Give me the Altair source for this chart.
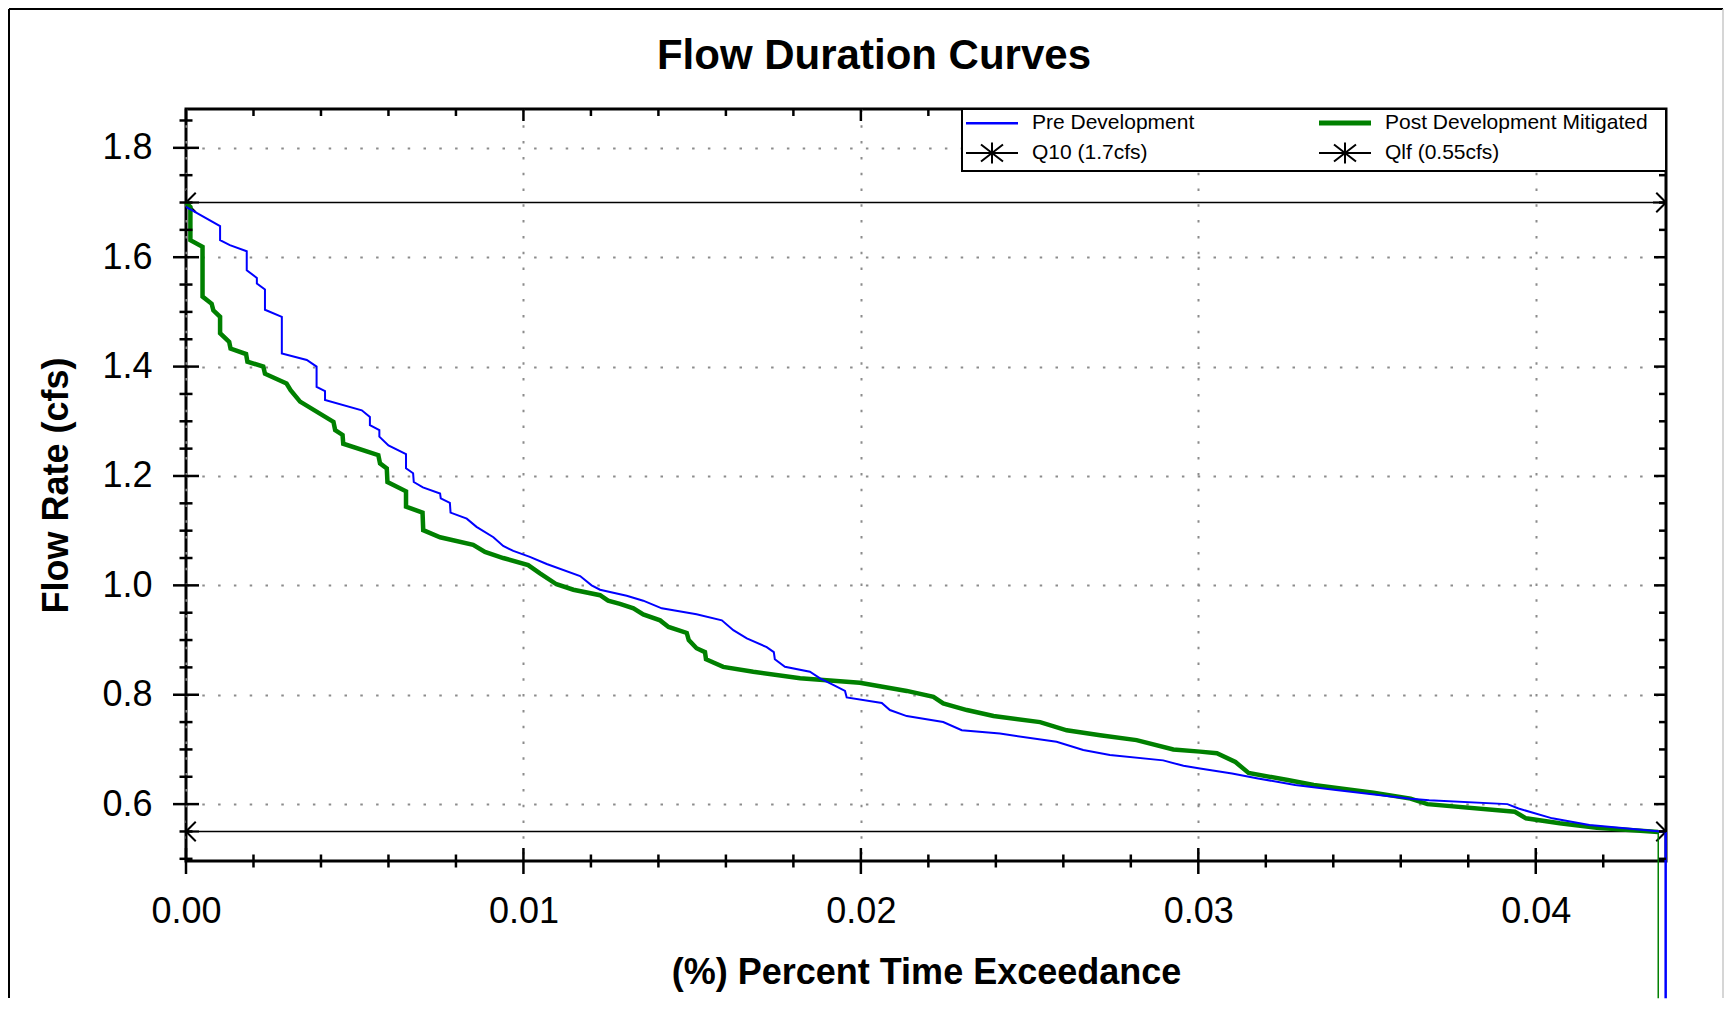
import altair as alt
import pandas as pd

# ---------------- data ----------------
pre_x = [0.0, 0.00101, 0.00101, 0.00130, 0.00180, 0.00180, 0.00210, 0.00210, 0.00234, 0.00234,
         0.00284, 0.00284, 0.00358, 0.00387, 0.00387, 0.00412, 0.00412, 0.00521, 0.00545, 0.00545,
         0.00573, 0.00573, 0.00600, 0.00652, 0.00652, 0.00673, 0.00675, 0.00702, 0.00753, 0.00755,
         0.00782, 0.00784, 0.00832, 0.00861, 0.00911, 0.00940, 0.00970, 0.01019, 0.01069, 0.01168,
         0.01202, 0.01227, 0.01306, 0.01355, 0.01410, 0.01513, 0.01588, 0.01622, 0.01662, 0.01721,
         0.01742, 0.01745, 0.01775, 0.01849, 0.01879, 0.01918, 0.01953, 0.01958, 0.02062, 0.02086,
         0.02136, 0.02244, 0.02299, 0.02412, 0.02580, 0.02659, 0.02738, 0.02896, 0.02956, 0.03005,
         0.03100, 0.03177, 0.03287, 0.03408, 0.03629, 0.03684, 0.03916, 0.03949, 0.04049, 0.04159,
         0.04385]
pre_y = [1.692, 1.657, 1.631, 1.622, 1.611, 1.576, 1.562, 1.552, 1.541, 1.504,
         1.491, 1.424, 1.412, 1.400, 1.363, 1.355, 1.339, 1.320, 1.308, 1.293,
         1.284, 1.272, 1.256, 1.240, 1.214, 1.205, 1.189, 1.179, 1.168, 1.159,
         1.151, 1.133, 1.122, 1.107, 1.088, 1.072, 1.063, 1.052, 1.039, 1.017,
         1.000, 0.992, 0.981, 0.972, 0.958, 0.947, 0.936, 0.918, 0.903, 0.887,
         0.878, 0.865, 0.851, 0.842, 0.830, 0.818, 0.807, 0.795, 0.785, 0.772,
         0.761, 0.750, 0.735, 0.729, 0.714, 0.699, 0.690, 0.680, 0.670, 0.665,
         0.656, 0.647, 0.635, 0.626, 0.610, 0.607, 0.600, 0.592, 0.574, 0.562,
         0.549]

post_x = [0.0, 0.00013, 0.00013, 0.00049, 0.00049, 0.00076, 0.00081, 0.00101, 0.00101, 0.00128,
          0.00132, 0.00178, 0.00182, 0.00229, 0.00234, 0.00298, 0.00310, 0.00338, 0.00437, 0.00442,
          0.00464, 0.00466, 0.00570, 0.00575, 0.00595, 0.00597, 0.00652, 0.00652, 0.00701, 0.00703,
          0.00753, 0.00851, 0.00886, 0.00940, 0.01014, 0.01049, 0.01098, 0.01148, 0.01227, 0.01251,
          0.01286, 0.01326, 0.01355, 0.01405, 0.01430, 0.01484, 0.01490, 0.01513, 0.01538, 0.01541,
          0.01592, 0.01681, 0.01820, 0.01997, 0.02136, 0.02215, 0.02244, 0.02314, 0.02393, 0.02531,
          0.02610, 0.02709, 0.02817, 0.02926, 0.03005, 0.03055, 0.03110, 0.03149, 0.03265, 0.03342,
          0.03519, 0.03629, 0.03679, 0.03938, 0.03971, 0.04071, 0.04181, 0.04363]
post_y = [1.700, 1.692, 1.631, 1.619, 1.528, 1.515, 1.503, 1.491, 1.461, 1.445,
          1.433, 1.423, 1.409, 1.400, 1.387, 1.369, 1.357, 1.336, 1.299, 1.284,
          1.275, 1.259, 1.238, 1.223, 1.214, 1.189, 1.172, 1.144, 1.133, 1.101,
          1.088, 1.074, 1.061, 1.050, 1.037, 1.022, 1.002, 0.992, 0.982, 0.972,
          0.966, 0.958, 0.947, 0.936, 0.924, 0.913, 0.900, 0.885, 0.878, 0.865,
          0.851, 0.842, 0.830, 0.822, 0.807, 0.796, 0.784, 0.772, 0.761, 0.750,
          0.735, 0.726, 0.717, 0.700, 0.696, 0.693, 0.677, 0.657, 0.644, 0.635,
          0.621, 0.610, 0.600, 0.586, 0.574, 0.565, 0.557, 0.549]

# vertical drops at the end of each series (run below the plot frame)
pre_drop_x = [0.04385, 0.04385]
pre_drop_y = [0.549, 0.245]
post_drop_x = [0.04363, 0.04363]
post_drop_y = [0.549, 0.245]

q10_value = 1.7
qlf_value = 0.55

x_domain = [0.0, 0.04386]
y_domain = [0.496, 1.871]

x_major = [0.0, 0.01, 0.02, 0.03, 0.04]
x_minor = [0.002, 0.004, 0.006, 0.008, 0.012, 0.014, 0.016, 0.018, 0.022, 0.024,
           0.026, 0.028, 0.032, 0.034, 0.036, 0.038, 0.042]
y_major = [0.6, 0.8, 1.0, 1.2, 1.4, 1.6, 1.8]
y_minor = [0.5, 0.55, 0.65, 0.7, 0.75, 0.85, 0.9, 0.95, 1.05, 1.1, 1.15, 1.25, 1.3,
           1.35, 1.45, 1.5, 1.55, 1.65, 1.7, 1.75, 1.85]

# legend order: column 1 = first two, column 2 = last two
series_names = ["Pre Development", "Q10 (1.7cfs)", "Post Development Mitigated", "Qlf (0.55cfs)"]
series_colors = ["#0000ff", "#000000", "#008000", "#000000"]

chart_title = "Flow Duration Curves"

# ---------------- styling ----------------
W, H = 1480, 752
FONT = "Liberation Sans"
ASTERISK = "M-1,0L1,0M0,-1L0,1M-0.75,-0.75L0.75,0.75M-0.75,0.75L0.75,-0.75"
LEG_LINE = "M-1,0L4.2,0M-1,0.06L4.2,0.06"
LEG_THICK = "M-1,-0.15L4.2,-0.15M-1,0L4.2,0M-1,0.15L4.2,0.15"
LEG_STAR = "M-1,0L4.2,0M1.6,-1.05L1.6,1.05M0.5,-0.85L2.7,0.85M0.5,0.85L2.7,-0.85"
legend_shapes = [LEG_LINE, LEG_STAR, LEG_THICK, LEG_STAR]
BLANK = "\u2800"  # blank (non-whitespace) filler to widen the legend's right margin

xs = alt.Scale(domain=x_domain, nice=False, zero=False)
ys = alt.Scale(domain=y_domain, nice=False, zero=False)

x_axis = alt.Axis(values=x_major, format=".2f", grid=True, gridDash=[2.5, 13.3],
                  gridColor="#8c8c8c", gridWidth=2, ticks=False, tickSize=0, domain=False,
                  labelFont=FONT, labelFontSize=36, labelColor="black", labelPadding=33,
                  labelFlush=False, labelOverlap=False,
                  title="(%) Percent Time Exceedance", titleFont=FONT, titleFontSize=36,
                  titleFontWeight="bold", titleColor="black", titlePadding=26)
y_axis = alt.Axis(values=y_major, format=".1f", grid=True, gridDash=[2.5, 13.3],
                  gridColor="#8c8c8c", gridWidth=2, ticks=False, tickSize=0, domain=False,
                  labelFont=FONT, labelFontSize=36, labelColor="black", labelPadding=34,
                  labelFlush=False, labelOverlap=False,
                  title="Flow Rate (cfs)", titleFont=FONT, titleFontSize=36,
                  titleFontWeight="bold", titleColor="black", titlePadding=26)


def X(field="x"):
    return alt.X(f"{field}:Q", scale=xs, axis=x_axis)


def Y(field="y"):
    return alt.Y(f"{field}:Q", scale=ys, axis=y_axis)


def frame(xv, yv):
    return pd.DataFrame({"x": xv, "y": yv, "i": list(range(len(xv)))})


one = pd.DataFrame({"a": [0]})

# window border (left/top black, right light gray)
border_top = alt.Chart(one).mark_rule(color="black", strokeWidth=2).encode(
    x=alt.value(-177), x2=alt.value(1537), y=alt.value(-100))
border_left = alt.Chart(one).mark_rule(color="black", strokeWidth=2).encode(
    x=alt.value(-177), y=alt.value(-100), y2=alt.value(889))
border_right = alt.Chart(one).mark_rule(color="#c8c8c8", strokeWidth=1.5).encode(
    x=alt.value(1537), y=alt.value(-100), y2=alt.value(889))

# chart title (as a text mark so it sits inside the window border)
title_text = alt.Chart(one).mark_text(
    text=chart_title, font=FONT, fontSize=42, fontWeight="bold", color="black",
    align="center", baseline="alphabetic").encode(x=alt.value(688), y=alt.value(-40))

# threshold lines with asterisk end markers
q10_df = frame([x_domain[0], x_domain[1]], [q10_value, q10_value])
qlf_df = frame([x_domain[0], x_domain[1]], [qlf_value, qlf_value])
q10_line = alt.Chart(q10_df).mark_line(color="black", strokeWidth=1.5).encode(x=X(), y=Y(), order="i:Q")
qlf_line = alt.Chart(qlf_df).mark_line(color="black", strokeWidth=1.5).encode(x=X(), y=Y(), order="i:Q")
q10_pts = alt.Chart(q10_df).mark_point(shape=ASTERISK, size=676, filled=False, color="black",
                                       strokeWidth=2, opacity=1, clip=True).encode(x=X(), y=Y())
qlf_pts = alt.Chart(qlf_df).mark_point(shape=ASTERISK, size=676, filled=False, color="black",
                                       strokeWidth=2, opacity=1, clip=True).encode(x=X(), y=Y())

post_line = alt.Chart(frame(post_x, post_y)).mark_line(
    color="#008000", strokeWidth=4.5, clip=False, strokeJoin="miter").encode(x=X(), y=Y(), order="i:Q")
post_drop = alt.Chart(frame(post_drop_x, post_drop_y)).mark_line(
    color="#008000", strokeWidth=1.5, clip=False).encode(x=X(), y=Y(), order="i:Q")
pre_line = alt.Chart(frame(pre_x, pre_y)).mark_line(
    color="#0000ff", strokeWidth=2, clip=False).encode(x=X(), y=Y(), order="i:Q")
pre_drop = alt.Chart(frame(pre_drop_x, pre_drop_y)).mark_line(
    color="#0000ff", strokeWidth=2.5, clip=False).encode(x=X(), y=Y(), order="i:Q")


# axis ticks (major ticks cross the frame, minor ticks smaller; top/right point inward)
def ticks_x(values, ypix, size):
    return alt.Chart(pd.DataFrame({"x": values})).mark_tick(
        color="black", thickness=2.5, size=size, opacity=1).encode(x=X(), y=alt.value(ypix))


def ticks_y(values, xpix, size):
    return alt.Chart(pd.DataFrame({"y": values})).mark_tick(
        color="black", thickness=2.5, size=size, opacity=1).encode(y=Y(), x=alt.value(xpix))


tick_layers = [
    ticks_x(x_major, H, 26), ticks_x(x_minor, H, 13),
    ticks_x(x_major, 6, 12), ticks_x(x_minor, 3.5, 7),
    ticks_y(y_major, 0, 26), ticks_y(y_minor, 0, 13),
    ticks_y(y_major, W - 6, 12), ticks_y(y_minor, W - 3.5, 7),
]

# legend (drawn by Vega from an empty layer with explicit domains)
label_expr = ("datum.label == 'Post Development Mitigated' ? datum.label + '"
              + BLANK + "' : datum.label")
legend = alt.Legend(title=None, orient="top-right", offset=0, columns=2, columnPadding=120,
                    rowPadding=5, padding=3, labelFont=FONT, labelFontSize=21, labelColor="black",
                    labelOffset=45, labelLimit=500, symbolSize=400, symbolStrokeWidth=2,
                    strokeColor="black", fillColor="white", gridAlign="each",
                    labelExpr=label_expr)
legend_layer = alt.Chart(pd.DataFrame({"series": series_names})).transform_filter("false").mark_point(
    filled=False, size=400, strokeWidth=2, opacity=1).encode(
    color=alt.Color("series:N", scale=alt.Scale(domain=series_names, range=series_colors), legend=legend),
    shape=alt.Shape("series:N", scale=alt.Scale(domain=series_names, range=legend_shapes), legend=legend),
)

chart = alt.layer(
    border_top, border_left, border_right, title_text,
    q10_line, qlf_line, q10_pts, qlf_pts,
    post_line, post_drop, pre_line, pre_drop,
    *tick_layers, legend_layer,
).properties(
    width=W, height=H, padding=0, background="white",
).configure_view(stroke="black", strokeWidth=3).configure_legend(strokeWidth=2)

chart.save("out.html", embed_options={"renderer": "svg", "actions": False})
